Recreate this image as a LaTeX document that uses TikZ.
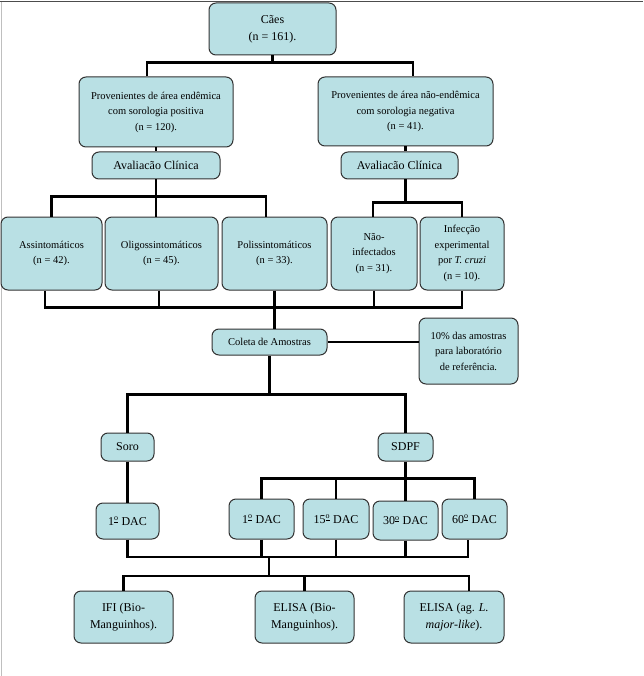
\documentclass[tikz,border=0pt]{standalone}
\usepackage{fontspec}
\setmainfont{Liberation Serif}
\usetikzlibrary{positioning}
\definecolor{boxfill}{RGB}{185,224,228}
\definecolor{boxline}{RGB}{50,50,50}

\begin{document}
\begin{tikzpicture}[x=1pt,y=-1pt]
	\tikzset{
		mybox/.style={rectangle, rounded corners=7pt, draw=boxline, line width=1pt, fill=boxfill, align=center, inner sep=0pt},
		smallbox/.style={mybox, font=\fontsize{10.5}{15.5}\selectfont},
		bigbox/.style={mybox, font=\fontsize{12}{17}\selectfont},
		bar/.style={line width=2.4pt},
	}
	\useasboundingbox (0,0) rectangle (643,676);
	\draw[black!70, line width=1pt] (0,2) -- (643,2);
	\draw[black!25, line width=0.8pt] (1,2) -- (1,676);

	\node[bigbox, minimum width=127pt, minimum height=52pt] (caes) at (272.5,29) {Cães\\(n = 161).};
	\node[smallbox, minimum width=154pt, minimum height=70pt] (endemica) at (156,112) {Provenientes de área endêmica\\com sorologia positiva\\(n = 120).};
	\node[smallbox, minimum width=175pt, minimum height=69pt] (naoendemica) at (405.5,111.5) {Provenientes de área não-endêmica\\com sorologia negativa\\(n = 41).};
	\node[bigbox, minimum width=128pt, minimum height=27pt] (avalpos) at (156,165.5) {Avaliacão Clínica};
	\node[bigbox, minimum width=117pt, minimum height=27pt] (avalneg) at (399.5,165.5) {Avaliacão Clínica};

	\draw[bar] (caes.south) -- ++(0,8);
	\draw[bar] ([xshift=-9pt]endemica.north) -- ++(0,-14) -| ([xshift=7.5pt]naoendemica.north);
	\draw[bar] (endemica.south) -- (avalpos.north);
	\draw[bar] (naoendemica.south) -- (naoendemica.south |- avalneg.north);

	\node[smallbox, minimum width=101pt, minimum height=73pt] (assint) at (51.5,253.5) {Assintomáticos\\(n = 42).};
	\node[smallbox, minimum width=113pt, minimum height=73pt] (oligo) at (161.5,253.5) {Oligossintomáticos\\(n = 45).};
	\node[smallbox, minimum width=105pt, minimum height=73pt] (polis) at (274.5,253.5) {Polissintomáticos\\(n = 33).};
	\node[smallbox, minimum width=86pt, minimum height=73pt] (naoinf) at (374,253.5) {Não-\\infectados\\(n = 31).};
	\node[smallbox, minimum width=84pt, minimum height=73pt] (infec) at (462,253.5) {Infecção\\experimental\\por \textit{T. cruzi}\\(n = 10).};

	\draw[bar] (avalpos.south) -- ([xshift=-5.5pt]oligo.north);
	\draw[bar] (assint.north) -- ++(0,-20) -| ([xshift=-8.5pt]polis.north);
	\draw[bar] (naoendemica.south |- avalneg.south) -- ++(0,24);
	\draw[bar] ([xshift=-1pt]naoinf.north) -- ++(0,-14) -| (infec.north);

	\node[smallbox, minimum width=115pt, minimum height=26pt] (coleta) at (269.5,342) {Coleta de Amostras};
	\node[smallbox, minimum width=99pt, minimum height=66pt] (refer) at (468.5,351) {10\% das amostras\\para laboratório\\de referência.};

	\draw[bar] ([xshift=-6.5pt]assint.south) -- ++(0,17) -| (infec.south);
	\draw[bar] ([xshift=-2.5pt]oligo.south) -- ++(0,17);
	\draw[bar] (naoinf.south) -- ++(0,17);
	\draw[bar] (polis.south) -- (polis.south |- coleta.north);
	\draw[bar] (coleta.east) -- (coleta.east -| refer.west);

	\node[bigbox, minimum width=53pt, minimum height=28pt] (soro) at (127.5,447) {Soro};
	\node[bigbox, minimum width=55pt, minimum height=28pt] (sdpf) at (405.5,447) {SDPF};

	\draw[bar] (coleta.south) -- ++(0,40);
	\draw[bar] (soro.north) -- ++(0,-38) -| (sdpf.north);

	\node[bigbox, minimum width=63pt, minimum height=36pt] (dacsoro) at (127.5,521) {1\textsuperscript{\underline{o}} DAC};
	\node[bigbox, minimum width=65pt, minimum height=40pt] (dacum) at (261.5,519) {1\textsuperscript{\underline{o}} DAC};
	\node[bigbox, minimum width=66pt, minimum height=40pt] (dacquinze) at (336,519) {15\textsuperscript{\underline{o}} DAC};
	\node[bigbox, minimum width=65pt, minimum height=39pt] (dactrinta) at (405.5,520.5) {30\textsuperscript{\underline{o}} DAC};
	\node[bigbox, minimum width=65pt, minimum height=40pt] (dacsessenta) at (474.5,519) {60\textsuperscript{\underline{o}} DAC};

	\draw[bar] (soro.south) -- (dacsoro.north);
	\draw[bar] (sdpf.south) -- (dactrinta.north);
	\draw[bar] (dacum.north) -- ++(0,-20) -| (dacsessenta.north);
	\draw[bar] (dacquinze.north) -- ++(0,-20);

	\node[bigbox, minimum width=99pt, minimum height=52pt] (ifi) at (123.5,617) {IFI (Bio-\\Manguinhos).};
	\node[bigbox, minimum width=99pt, minimum height=52pt] (elisabio) at (304.5,617) {ELISA (Bio-\\Manguinhos).};
	\node[bigbox, minimum width=100pt, minimum height=52pt] (elisalm) at (454,617) {ELISA (ag. \textit{L.}\\\textit{major-like}).};

	\coordinate (junc) at (269,557);
	\coordinate (split) at (269,576);
	\draw[bar] (dacsoro.south) |- (junc) -| ([xshift=-6.5pt]dacsessenta.south);
	\draw[bar] (dacum.south) -- (dacum.south |- junc);
	\draw[bar] (dacquinze.south) -- (dacquinze.south |- junc);
	\draw[bar] (dactrinta.south) -- (dactrinta.south |- junc);
	\draw[bar] (junc) -- (split);
	\draw[bar] (ifi.north) |- (split) -| ([xshift=15pt]elisalm.north);
	\draw[bar] (elisabio.north) -- (elisabio.north |- split);
\end{tikzpicture}
\end{document}
